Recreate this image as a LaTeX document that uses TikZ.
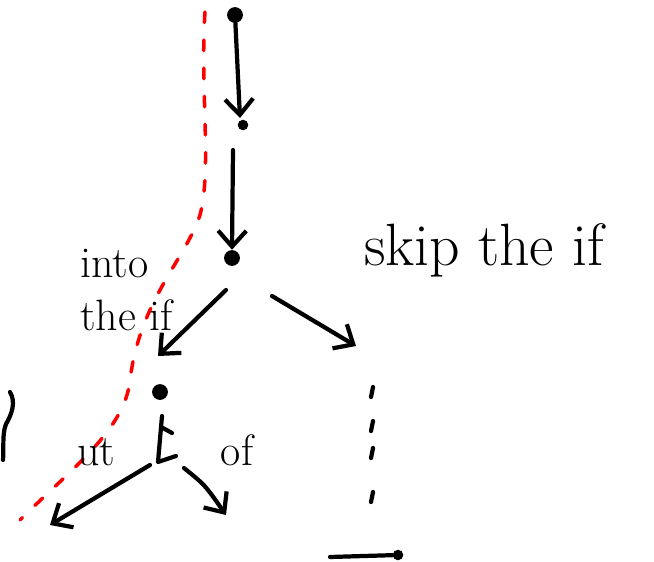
\documentclass[tikz,border=0pt]{standalone}
\usepackage{tikz}
\usetikzlibrary{arrows.meta,positioning,calc}

\begin{document}
\begin{tikzpicture}[
  x=0.02cm, y=-0.02cm,
  pen/.style  = {draw=black, line width=2.4pt, line cap=round, line join=round},
  arr/.style  = {pen, -{Straight Barb[length=9pt, width=16pt, line width=2.4pt]}},
  dot/.style  = {circle, fill=black, inner sep=0pt, minimum size=9pt},
  sdot/.style = {circle, fill=black, inner sep=0pt, minimum size=6pt},
  word/.style = {font=\fontsize{34}{38}\selectfont},
  lbl/.style  = {font=\fontsize{25}{30}\selectfont},
  path/.style = {draw=red, line width=2pt, dash pattern=on 6pt off 10pt, line cap=round},
]
\useasboundingbox (0,0) rectangle (654,562);

% ========== Red path through the code ==========
\draw[path] (205,12) .. controls (200,90) and (212,170) .. (200,215)
  .. controls (185,260) and (140,300) .. (130,380)
  .. controls (125,430) and (70,470) .. (20,520);

% ========== Top: straight line of statements ==========
\node[dot]  (start) at (235,15)  {};
\node[sdot] (stmt)  at (243,125) {};
\coordinate (s2) at (233,150);
\node[dot]  (fork)  at (232,258) {};

\draw[arr] (start) -- (240,118);
\draw[arr] (s2) -- (fork.north);

% ========== Branch on the if ==========
\coordinate (inL)   at (226,290);
\coordinate (skipR) at (272,296);
\node[dot] (inner) at (160,392) {};
\coordinate (skipE) at (356,346);

\draw[arr] (inL) -- (158,356);
\draw[arr] (skipR) -- (skipE);

\node[lbl, anchor=west, align=left] (into) at (74,290) {into\\the if};
\node[word] (skip) at (484,250) {skip the if};

% ========== Inside the if ==========
\draw[pen] (162,416) -- (158,462) -- (176,456);
\draw[pen] (163,428) -- (172,433);

\coordinate (outL) at (150,465);
\coordinate (outR) at (184,468);
\draw[arr] (outL) -- (50,525);
\draw[arr] (outR) .. controls (205,485) .. (226,515);

\node[lbl] (ut) at (96,452) {ut};
\node[lbl] (of) at (237,450) {of};

% ========== Skipped body ==========
\foreach \y in {392,426,453,497}
  \draw[pen] (373,\y-5) -- (371,\y+5);
\node[sdot] (after) at (398,555) {};
\draw[pen] (330,557) -- (after);

% bracket on the left edge
\draw[pen] (10,392) .. controls (16,402) and (12,414) .. (6,424)
  .. controls (2,434) and (4,448) .. (3,460);

\end{tikzpicture}
\end{document}
